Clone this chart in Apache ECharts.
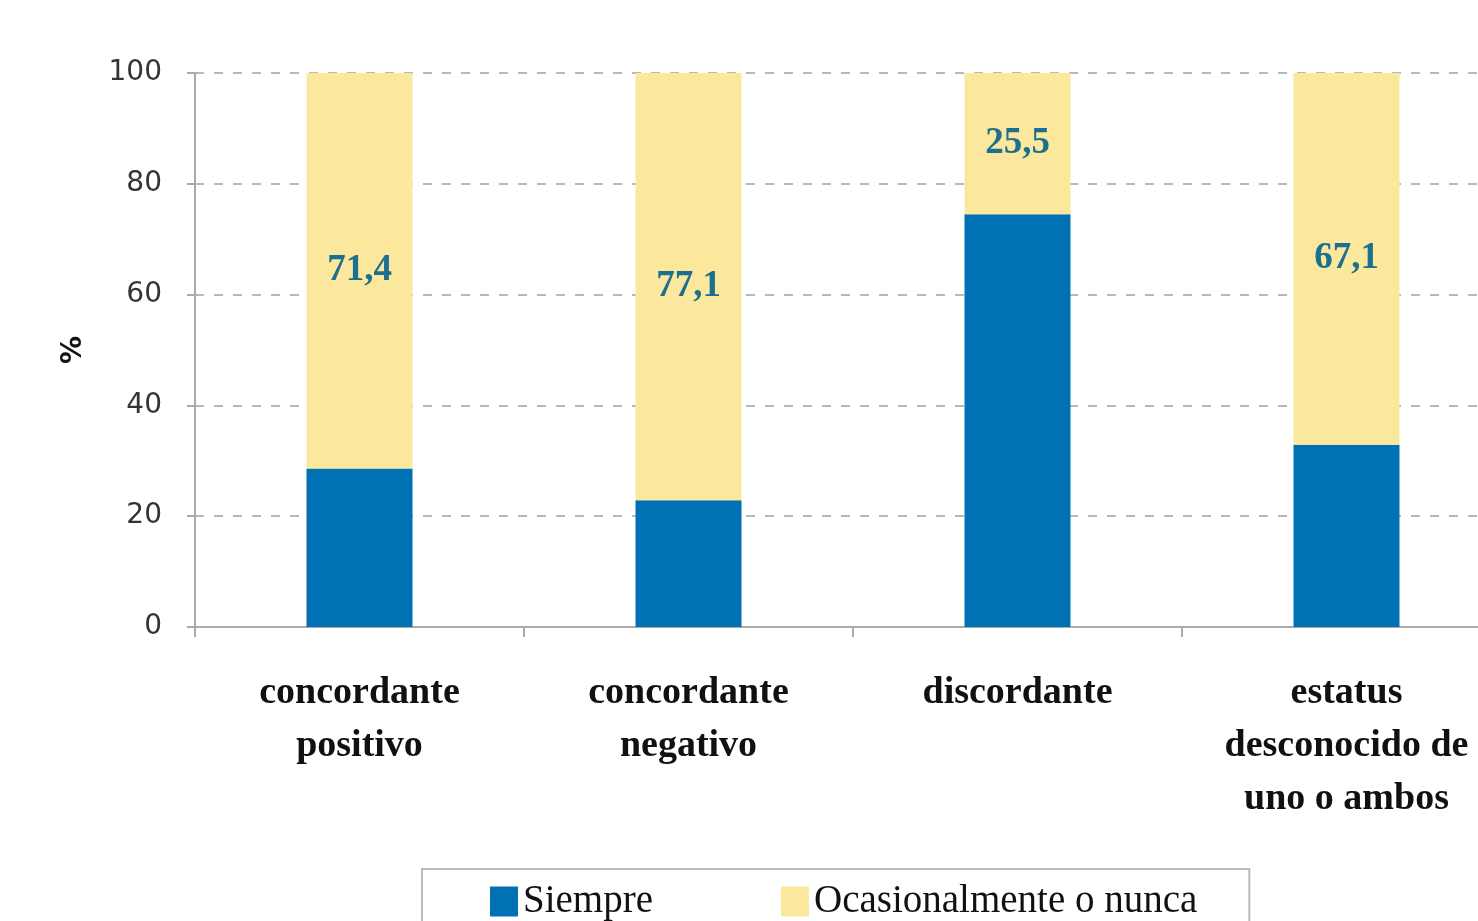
<!DOCTYPE html>
<html><head><meta charset="utf-8">
<script src="https://cdn.jsdelivr.net/npm/echarts@6/dist/echarts.min.js"></script>
<style>html,body{margin:0;padding:0;background:#fff}#c{width:1478px;height:921px}</style>
</head><body><div id="c"></div>
<script>
const categories = ['concordante\npositivo', 'concordante\nnegativo', 'discordante', 'estatus\ndesconocido de\nuno o ambos'];
const siempre = [28.6, 22.9, 74.5, 32.9];
const ocasional = [71.4, 77.1, 25.5, 67.1];
const yTicks = [0, 20, 40, 60, 80, 100];
const seriesNames = ['Siempre', 'Ocasionalmente o nunca'];

const chart = echarts.init(document.getElementById('c'));
chart.setOption({
  animation: false,
  backgroundColor: '#fff',
  grid: { left: 195, top: 73, bottom: 294, width: 1316, outerBoundsMode: 'none', containLabel: false },
  legend: {
    data: seriesNames,
    left: 422, top: 869,
    padding: [13, 52, 12, 68],
    itemGap: 128,
    itemWidth: 28, itemHeight: 30,
    borderColor: '#bbbbbb', borderWidth: 2,
    textStyle: { fontFamily: 'Liberation Serif', fontSize: 39, color: '#111' },
    icon: 'rect'
  },
  xAxis: {
    type: 'category',
    data: categories,
    axisLine: { lineStyle: { color: '#aaaaaa', width: 2 } },
    axisTick: { show: true, length: 10, lineStyle: { color: '#aaaaaa', width: 2 } },
    axisLabel: { margin: 40, fontFamily: 'Liberation Serif', fontWeight: 'bold', fontSize: 38, color: '#111', lineHeight: 53, interval: 0 }
  },
  yAxis: {
    type: 'value', min: 0, max: 100, interval: 20,
    name: '%', nameLocation: 'middle', nameGap: 107, nameRotate: 90,
    nameTextStyle: { fontFamily: 'DejaVu Sans', fontWeight: 'bold', fontSize: 28, color: '#111' },
    axisLine: { show: true, lineStyle: { color: '#aaaaaa', width: 2 } },
    axisTick: { show: true, length: 8, lineStyle: { color: '#aaaaaa', width: 2 } },
    axisLabel: { margin: 33, fontFamily: 'DejaVu Sans', fontSize: 28, color: '#333',
      formatter: v => yTicks.includes(v) ? String(v) : '' },
    splitLine: { show: true, lineStyle: { color: '#b8b8b8', type: [9, 10], width: 2 } }
  },
  series: [
    { name: seriesNames[0], type: 'bar', stack: 's', data: siempre, barWidth: 106,
      itemStyle: { color: '#0071B3' } },
    { name: seriesNames[1], type: 'bar', stack: 's', data: ocasional, barWidth: 106,
      itemStyle: { color: '#FCE89C' },
      label: { show: true, position: 'inside', fontFamily: 'Liberation Serif', fontWeight: 'bold',
        fontSize: 37, color: '#1D6F8F', formatter: p => String(p.value).replace('.', ',') } }
  ]
});
</script></body></html>
